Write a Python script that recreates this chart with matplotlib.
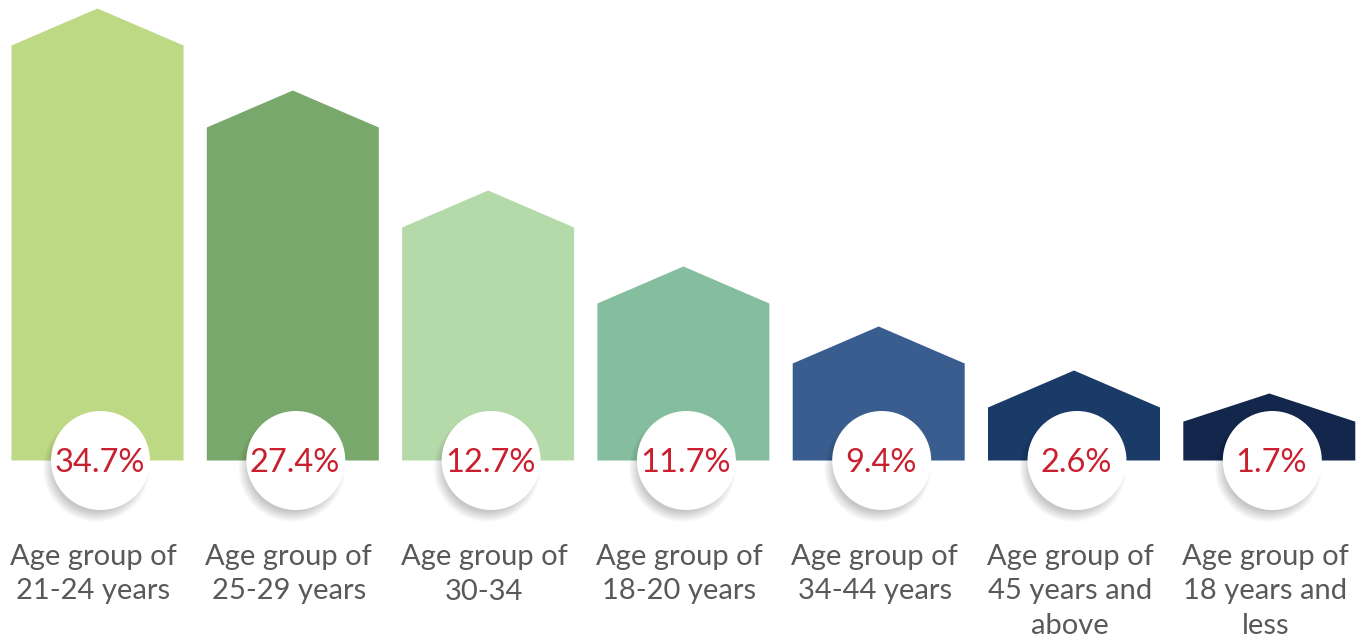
import matplotlib
matplotlib.use("Agg")
import matplotlib.pyplot as plt
from matplotlib.patches import Polygon, Ellipse

# ---- data ----
categories = ["Age group of\n21-24 years", "Age group of\n25-29 years", "Age group of\n30-34",
              "Age group of\n18-20 years", "Age group of\n34-44 years",
              "Age group of\n45 years and\nabove", "Age group of\n18 years and\nless"]
percent_labels = ["34.7%", "27.4%", "12.7%", "11.7%", "9.4%", "2.6%", "1.7%"]
bar_heights = [452, 370, 270, 194, 134, 90, 67]   # decorative heights
colors = ["#BDD984", "#79A86C", "#B5DAAA", "#85BE9E", "#395D8F", "#1A3A68", "#13264B"]

W, H, DPI = 13.62, 6.39, 100
fig = plt.figure(figsize=(W, H), dpi=DPI)
ax = fig.add_axes([0, 0, 1, 1])
step = 195.3      # px per category
x0 = 97.5         # px of first centre
base_px = 460.5
ax.set_xlim(-x0 / step, (1362 - x0) / step)
ax.set_ylim(-(639 - base_px), base_px)
ax.axis("off")

bw = 172 / step
px_x = 1 / step   # one pixel in x data units

for i, (h, c) in enumerate(zip(bar_heights, colors)):
    roof = min(37, 0.42 * h)
    pts = [(i - bw / 2, 0), (i - bw / 2, h - roof), (i, h),
           (i + bw / 2, h - roof), (i + bw / 2, 0)]
    ax.add_patch(Polygon(pts, closed=True, facecolor=c, edgecolor="none", zorder=2))

r = 49.5
cy = 0
for i, lab in enumerate(percent_labels):
    cx = i + 3 * px_x
    # soft shadow (lower-left)
    for k in range(14):
        rr = r + 4 - k * 0.8
        ax.add_patch(Ellipse((cx - 4 * px_x, cy - 8), 2 * rr * px_x, 2 * rr,
                             facecolor="#000000", edgecolor="none", alpha=0.014, zorder=3))
    ax.add_patch(Ellipse((cx, cy), 2 * r * px_x, 2 * r, facecolor="white",
                         edgecolor="none", zorder=4))
    ax.text(cx - 1 * px_x, -12, lab, ha="center", va="baseline", fontsize=23.5,
            family="Lato", color="#C8202F", zorder=5)

for i, cat in enumerate(categories):
    for j, line in enumerate(cat.split("\n")):
        ax.text(i - 4 * px_x, base_px - (565 + 34.5 * j), line, ha="center",
                va="baseline", fontsize=21, family="Lato", color="#595959", zorder=5)

fig.savefig("out.png", dpi=DPI, facecolor="white")
